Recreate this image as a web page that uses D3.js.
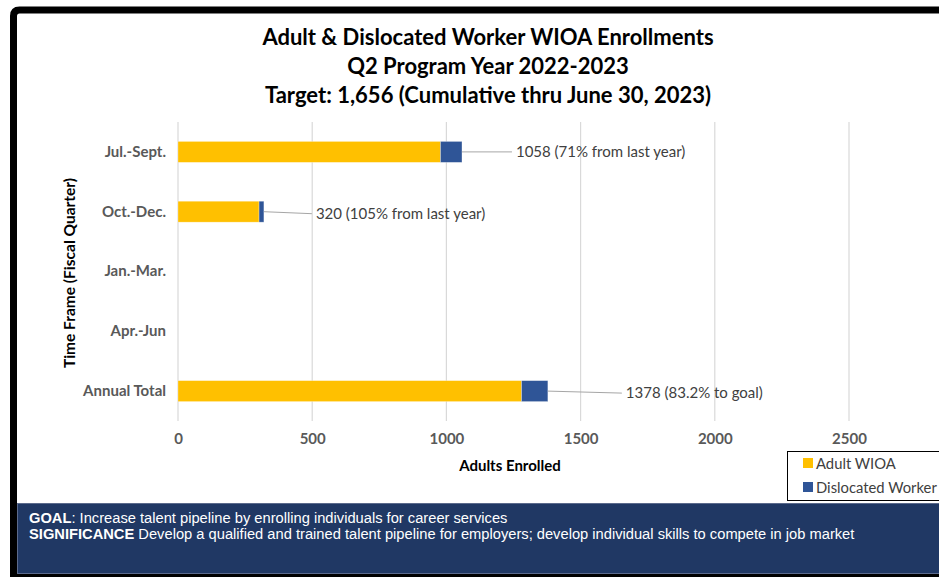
<!DOCTYPE html>
<html><head><meta charset="utf-8">
<script src="https://cdn.jsdelivr.net/npm/d3@7"></script>
<style>body{margin:0;background:#fff;}svg{display:block;}</style>
</head><body>
<svg id="c" width="939" height="577"></svg>
<script>
const categories = ["Jul.-Sept.", "Oct.-Dec.", "Jan.-Mar.", "Apr.-Jun", "Annual Total"];
const adultWIOA = [978, 302, 0, 0, 1280];
const dislocatedWorker = [80, 18, 0, 0, 98];
const dataLabels = ["1058 (71% from last year)", "320 (105% from last year)", "", "", "1378 (83.2% to goal)"];
const labelOffsets = [[54, 0], [52, 2], [0, 0], [0, 0], [78, 2]];
const xTicks = [0, 500, 1000, 1500, 2000, 2500];
const seriesNames = ["Adult WIOA", "Dislocated Worker"];
const colors = ["#FFC000", "#2F5597"];
const titleLines = ["Adult & Dislocated Worker WIOA Enrollments", "Q2 Program Year 2022-2023", "Target: 1,656 (Cumulative thru June 30, 2023)"];

const svg = d3.select("#c");
// frame
svg.append("rect").attr("x", 0).attr("y", 0).attr("width", 939).attr("height", 577).attr("fill", "#fff");
svg.append("path").attr("d", "M13.5,577 L13.5,16 Q13.5,10 19.5,10 L945,10 L945,577 Z")
  .attr("fill", "#fff").attr("stroke", "#000").attr("stroke-width", 7);

// titles
svg.selectAll("text.title").data(titleLines).join("text")
  .attr("x", 488).attr("y", (d, i) => 45 + i * 29)
  .attr("text-anchor", "middle").attr("font-family", "Lato, 'Open Sans', sans-serif")
  .attr("font-weight", "bold").attr("font-size", 22).attr("fill", "#000").text(d => d);

const x = d3.scaleLinear().domain([0, 2500]).range([178, 849]);
const y = d3.scaleBand().domain(categories).range([122, 421]).paddingInner(0.65).paddingOuter(0.325);

// gridlines
svg.append("g").selectAll("line").data(xTicks).join("line")
  .attr("x1", d => x(d)).attr("x2", d => x(d)).attr("y1", 122).attr("y2", 421)
  .attr("stroke", "#d9d9d9").attr("stroke-width", 1.2);

// x axis
const xAxis = svg.append("g").attr("transform", "translate(0,421)")
  .call(d3.axisBottom(x).tickValues(xTicks).tickSize(0).tickPadding(12).tickFormat(d3.format("d")));
xAxis.select(".domain").remove();
xAxis.selectAll("text").attr("font-family", "Lato, sans-serif").attr("font-weight", "bold")
  .attr("font-size", 15).attr("fill", "#595959");

// y axis
const yAxis = svg.append("g").attr("transform", "translate(178,0)")
  .call(d3.axisLeft(y).tickSize(0).tickPadding(12));
yAxis.select(".domain").remove();
yAxis.selectAll("text").attr("font-family", "Lato, sans-serif").attr("font-weight", "bold")
  .attr("font-size", 15).attr("fill", "#595959");

// stacked bars
const rows = categories.map((c, i) => ({cat: c, a: adultWIOA[i], d: dislocatedWorker[i]}));
const stack = d3.stack().keys(["a", "d"])(rows);
svg.append("g").selectAll("g").data(stack).join("g").attr("fill", (d, i) => colors[i])
  .selectAll("rect").data(d => d).join("rect")
  .attr("x", d => x(d[0])).attr("width", d => x(d[1]) - x(d[0]))
  .attr("y", d => y(d.data.cat)).attr("height", y.bandwidth())
  .attr("stroke", "#fff").attr("stroke-opacity", 0.4).attr("stroke-width", 0.7);

// data labels with leader lines
rows.forEach((r, i) => {
  if (!dataLabels[i]) return;
  const tot = r.a + r.d;
  const x0 = x(tot), yc = y(r.cat) + y.bandwidth() / 2;
  const lx = x0 + labelOffsets[i][0], ly = yc + labelOffsets[i][1];
  svg.append("line").attr("x1", x0).attr("y1", yc).attr("x2", lx - 4).attr("y2", ly)
    .attr("stroke", "#a6a6a6").attr("stroke-width", 1);
  svg.append("text").attr("x", lx).attr("y", ly + 5).attr("font-family", "Lato, sans-serif")
    .attr("font-size", 15).attr("fill", "#404040").text(dataLabels[i]);
});

// axis titles
svg.append("text").attr("x", 510).attr("y", 471).attr("text-anchor", "middle")
  .attr("font-family", "Lato, sans-serif").attr("font-weight", "bold").attr("font-size", 15)
  .attr("fill", "#000").text("Adults Enrolled");
svg.append("text").attr("transform", "translate(75,273) rotate(-90)").attr("text-anchor", "middle")
  .attr("font-family", "Lato, sans-serif").attr("font-weight", "bold").attr("font-size", 15.5)
  .attr("fill", "#000").text("Time Frame (Fiscal Quarter)");

// legend
const lg = svg.append("g");
lg.append("rect").attr("x", 787.5).attr("y", 451.5).attr("width", 160).attr("height", 49)
  .attr("fill", "#fff").attr("stroke", "#000").attr("stroke-width", 1);
seriesNames.forEach((n, i) => {
  lg.append("rect").attr("x", 803).attr("y", 458 + i * 24).attr("width", 10).attr("height", 10).attr("fill", colors[i]);
  lg.append("text").attr("x", 816).attr("y", 469 + i * 24).attr("font-family", "Lato, sans-serif")
    .attr("font-size", 14.8).attr("fill", "#404040").text(n);
});

// bottom panel
svg.append("rect").attr("x", 17.5).attr("y", 503.5).attr("width", 930).attr("height", 70)
  .attr("fill", "#203864").attr("stroke", "#5b6a8c").attr("stroke-width", 1);
const t1 = svg.append("text").attr("x", 29).attr("y", 523).attr("font-family", "'Liberation Sans', Arial, sans-serif")
  .attr("font-size", 14.7).attr("fill", "#fff");
t1.append("tspan").attr("font-weight", "bold").text("GOAL");
t1.append("tspan").text(": Increase talent pipeline by enrolling individuals for career services");
const t2 = svg.append("text").attr("x", 29).attr("y", 539).attr("font-family", "'Liberation Sans', Arial, sans-serif")
  .attr("font-size", 14.7).attr("fill", "#fff");
t2.append("tspan").attr("font-weight", "bold").text("SIGNIFICANCE");
t2.append("tspan").text(" Develop a qualified and trained talent pipeline for employers; develop individual skills to compete in job market");
</script>
</body></html>
